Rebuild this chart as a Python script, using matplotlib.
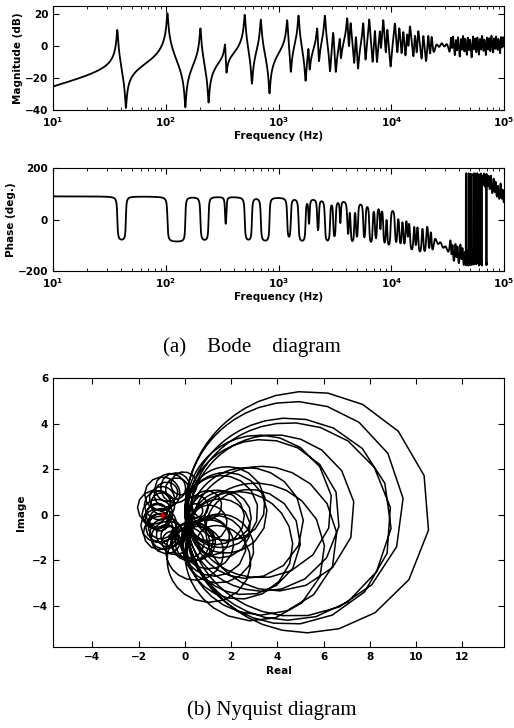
import numpy as np
import matplotlib.pyplot as plt

plt.rcParams['font.family'] = ['DejaVu Sans']
plt.rcParams['font.weight'] = 'bold'
plt.rcParams['mathtext.fontset'] = 'dejavusans'

# --- data ---
# resonance frequencies (Hz) and peak levels (dB) of each band of modes
peak_hz_low = [37.2, 103.5, 203, 336, 502, 697, 1194, 1505, 1846, 2204, 2578, 3056,
               3503, 4069, 4356, 4859, 5643, 6379, 7161, 7934, 8492, 9215]
peak_db_low = [10, 20.5, 11, 0, 19.5, 16.5, 16, 19, -3, 10.5, 19, 8,
               3, 17, 14, 5, 14, 16.5, 9, 8, 16, 9.5]
peak_hz_mid = [10777, 11780, 12780, 13870, 14650, 16220, 17360, 19230, 21290, 22790]
peak_db_mid = [13.8, 10.6, 8, 6, 11.7, 5.4, 8.6, 5.4, 5.4, 4]
peak_hz_flat = [25230, 27970, 30990]
peak_db_flat = [-1.5, -1.5, -1.5]
peak_hz_high = [33857, 35268, 37497, 39054, 41523, 43264, 45378, 47921, 49915, 53075,
                55290, 57990, 61240, 63786, 66900, 70650, 73606, 77190, 81500, 84922,
                89060, 94050, 97970, 102600, 107500, 112000, 117000]
peak_db_high = [3, 4, 2, 4, 3, 5, 3, 4, 2, 5, 3, 4, 3, 5, 2, 4, 3, 5, 3, 4,
                2, 4, 3, 3, 3, 3, 3]
# damping ratio of each band
zeta_low, zeta_mid, zeta_flat, zeta_high = 0.01, 0.012, 0.05, 0.01

delay_s = 3e-6              # measurement delay
allpass_hz = 5e4            # phase roll-off of the acquisition chain

# --- frequency response (driving point mobility, modal sum) ---
freq = np.logspace(1, 5, 4000)
s = 2j * np.pi * freq
H = np.zeros_like(s)
bands = [(peak_hz_low, peak_db_low, zeta_low), (peak_hz_mid, peak_db_mid, zeta_mid),
         (peak_hz_flat, peak_db_flat, zeta_flat), (peak_hz_high, peak_db_high, zeta_high)]
for hz_list, db_list, z in bands:
    for fk, dbk in zip(hz_list, db_list):
        wk = 2 * np.pi * fk
        ak = 2 * z * wk * 10 ** (dbk / 20)
        H += ak * s / (s**2 + 2 * z * wk * s + wk**2)
wa = 2 * np.pi * allpass_hz
H *= (1 - s / wa) / (1 + s / wa) * np.exp(-s * delay_s)

mag_db = 20 * np.log10(np.abs(H))
phase = np.angle(H, deg=True)

# --- figure ---
fig = plt.figure(figsize=(5.14, 7.28), dpi=100)
W, Hpx = 514.0, 728.0
def box(l, t, r, b):
    return [l / W, 1 - b / Hpx, (r - l) / W, (b - t) / Hpx]

ax1 = fig.add_axes(box(53, 6, 504, 110))
ax2 = fig.add_axes(box(53, 168, 504, 271))
ax3 = fig.add_axes(box(53, 378, 504, 647))

fs = 7.5
ax1.semilogx(freq, mag_db, 'k', lw=1.3)
ax1.set_xlim(10, 1e5)
ax1.set_ylim(-40, 25)
ax1.set_yticks([-40, -20, 0, 20])
ax1.set_ylabel('Magnitude (dB)', fontsize=fs, fontweight='bold', labelpad=1)
ax1.set_xlabel('Frequency (Hz)', fontsize=fs, fontweight='bold', labelpad=2)

ax2.semilogx(freq, phase, 'k', lw=1.3)
ax2.set_xlim(10, 1e5)
ax2.set_ylim(-200, 200)
ax2.set_yticks([-200, 0, 200])
ax2.set_ylabel('Phase (deg.)', fontsize=fs, fontweight='bold', labelpad=1)
ax2.set_xlabel('Frequency (Hz)', fontsize=fs, fontweight='bold', labelpad=2)

for ax in (ax1, ax2):
    ax.set_xticks([1e1, 1e2, 1e3, 1e4, 1e5])
    ax.set_xticklabels([r'$\mathbf{10^{%d}}$' % k for k in range(1, 6)])

ax3.plot(H.real, H.imag, 'k', lw=1.1)
ax3.plot([-1], [0], '+', color='red', ms=4, mew=1)
ax3.set_xlim(-5.7, 13.8)
ax3.set_ylim(-5.8, 6.0)
ax3.set_xticks(range(-4, 13, 2))
ax3.set_yticks(range(-4, 7, 2))
ax3.set_xlabel('Real', fontsize=fs, fontweight='bold', labelpad=3)
ax3.set_ylabel('Image', fontsize=fs, fontweight='bold', labelpad=4)

for ax in (ax1, ax2, ax3):
    ax.tick_params(which='both', direction='in', top=True, right=True, labelsize=fs)
    ax.tick_params(which='major', length=4)
    ax.tick_params(which='minor', length=2)
    for sp in ax.spines.values():
        sp.set_linewidth(0.8)

fig.text(251.5 / W, 1 - 347 / Hpx, '(a)    Bode    diagram', ha='center', va='center',
         family='Liberation Serif', fontweight='normal', fontsize=15)
fig.text(271.7 / W, 1 - 710 / Hpx, '(b) Nyquist diagram', ha='center', va='center',
         family='Liberation Serif', fontweight='normal', fontsize=15)

fig.savefig('out.png', dpi=100)
